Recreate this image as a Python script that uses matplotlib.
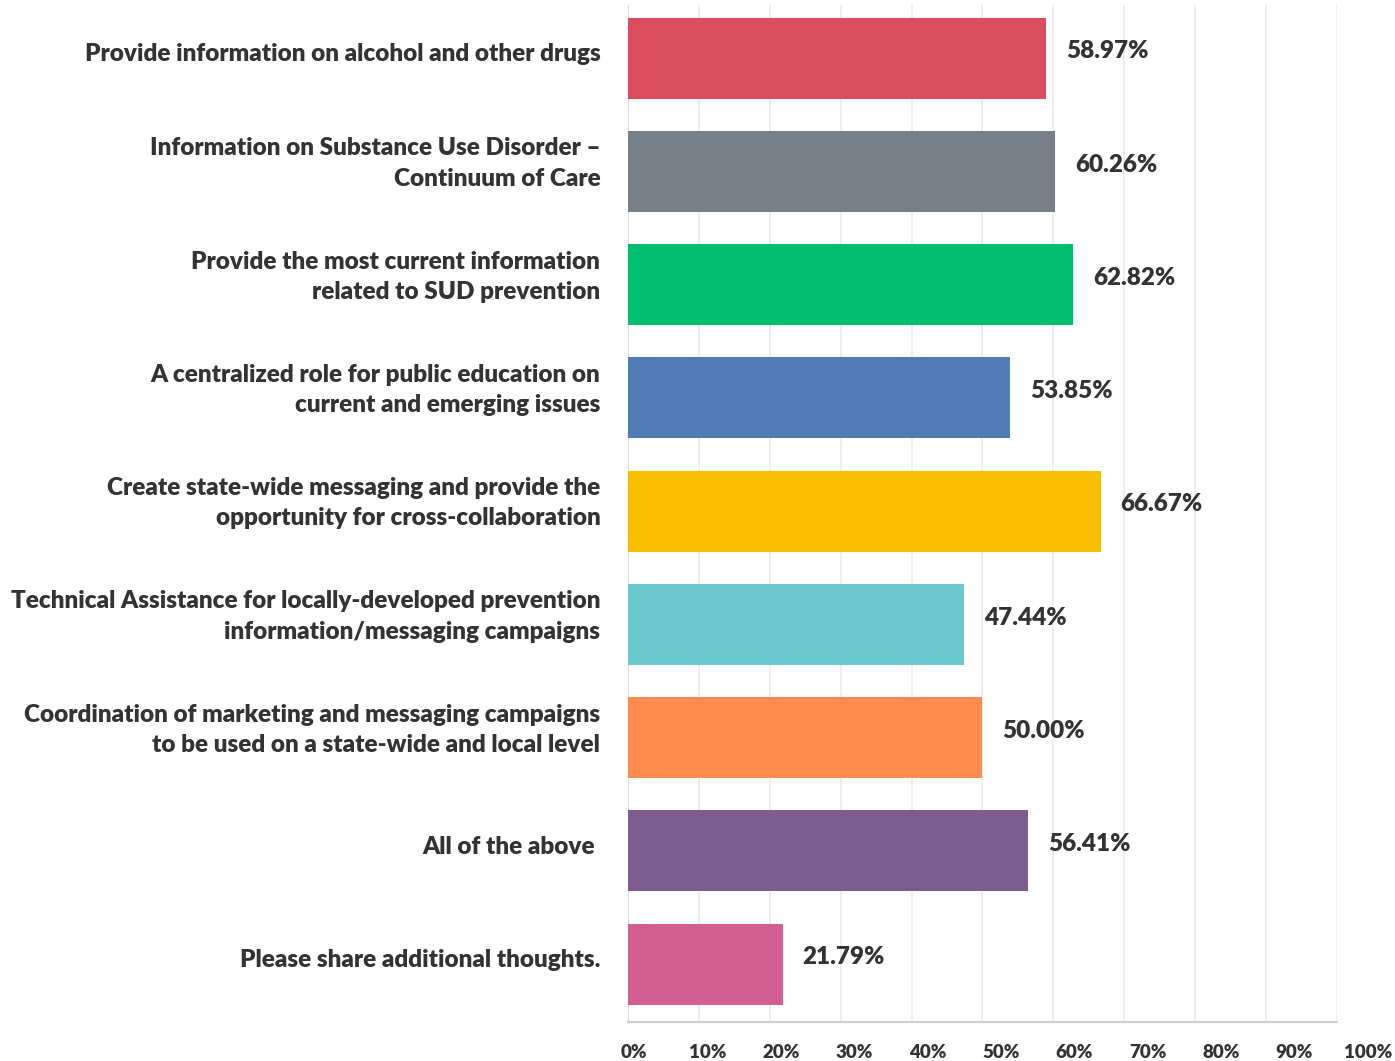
import matplotlib.pyplot as plt
from matplotlib.transforms import ScaledTranslation, blended_transform_factory

# survey answers, top to bottom
answers = [
    "Provide information on alcohol and other drugs",
    "Information on Substance Use Disorder \u2013\nContinuum of Care",
    "Provide the most current information\nrelated to SUD prevention",
    "A centralized role for public education on\ncurrent and emerging issues",
    "Create state-wide messaging and provide the\nopportunity for cross-collaboration",
    "Technical Assistance for locally-developed prevention\ninformation/messaging campaigns",
    "Coordination of marketing and messaging campaigns\nto be used on a state-wide and local level",
    "All of the above ",
    "Please share additional thoughts.",
]
percents = [58.97, 60.26, 62.82, 53.85, 66.67, 47.44, 50.00, 56.41, 21.79]
bar_colors = ["#DB4D5C", "#768086", "#00BF6F", "#507CB6", "#F9BE00",
              "#6BC8CD", "#FF8B4F", "#7D5D90", "#D25F90"]
ticks = [0, 10, 20, 30, 40, 50, 60, 70, 80, 90, 100]
tick_labels = [str(t) + "%" for t in ticks]

text_color = "#333333"
weight = "heavy"
plt.rcParams["font.family"] = ["Lato", "DejaVu Sans"]


def main():
    fig = plt.figure(figsize=(13.95, 10.61), dpi=100)
    ax = fig.add_axes([0.4502, 0.0368, 0.5082, 0.9585])

    pos = list(range(len(answers)))
    ax.barh(pos, percents, height=0.715, color=bar_colors, zorder=3)

    ax.set_xlim(0, 100)
    ax.set_ylim(len(answers) - 1 + 0.51, -0.47)

    # light vertical grid
    ax.set_xticks(ticks)
    ax.xaxis.grid(True, color="#ebebeb", linewidth=1.2, zorder=0)
    ax.tick_params(axis="x", length=0, labelbottom=False)

    ax.set_yticks(pos)
    ax.set_yticklabels(answers, fontsize=17.5, color=text_color,
                       fontweight=weight, linespacing=1.45)
    ax.tick_params(axis="y", length=0, pad=20)
    for lbl in ax.get_yticklabels():
        lift = 6 if "\n" not in lbl.get_text() else 14
        up = ScaledTranslation(0, lift / 100, fig.dpi_scale_trans)
        lbl.set_transform(lbl.get_transform() + up)

    for side in ["top", "right"]:
        ax.spines[side].set_visible(False)
    ax.spines["left"].set_color("#d9d9d9")
    ax.spines["bottom"].set_color("#cfcfcf")
    ax.spines["bottom"].set_linewidth(1.5)

    # percent labels next to each bar
    for p, v in zip(pos, percents):
        ax.annotate("%.2f%%" % v, (v, p), xytext=(14.4, 5),
                    textcoords="offset points", ha="left", va="center",
                    fontsize=17.5, fontweight=weight, color=text_color)

    # axis labels sit slightly spread out from the grid
    trans = blended_transform_factory(ax.transData, ax.transAxes)
    for t, s in zip(ticks, tick_labels):
        ax.text(0.85 + 1.035 * t, -0.030, s, transform=trans, ha="center",
                va="center", fontsize=13.5, fontweight=weight,
                color=text_color, clip_on=False)

    fig.savefig("out.png", dpi=100)
    plt.close(fig)


if __name__ == "__main__":
    main()
